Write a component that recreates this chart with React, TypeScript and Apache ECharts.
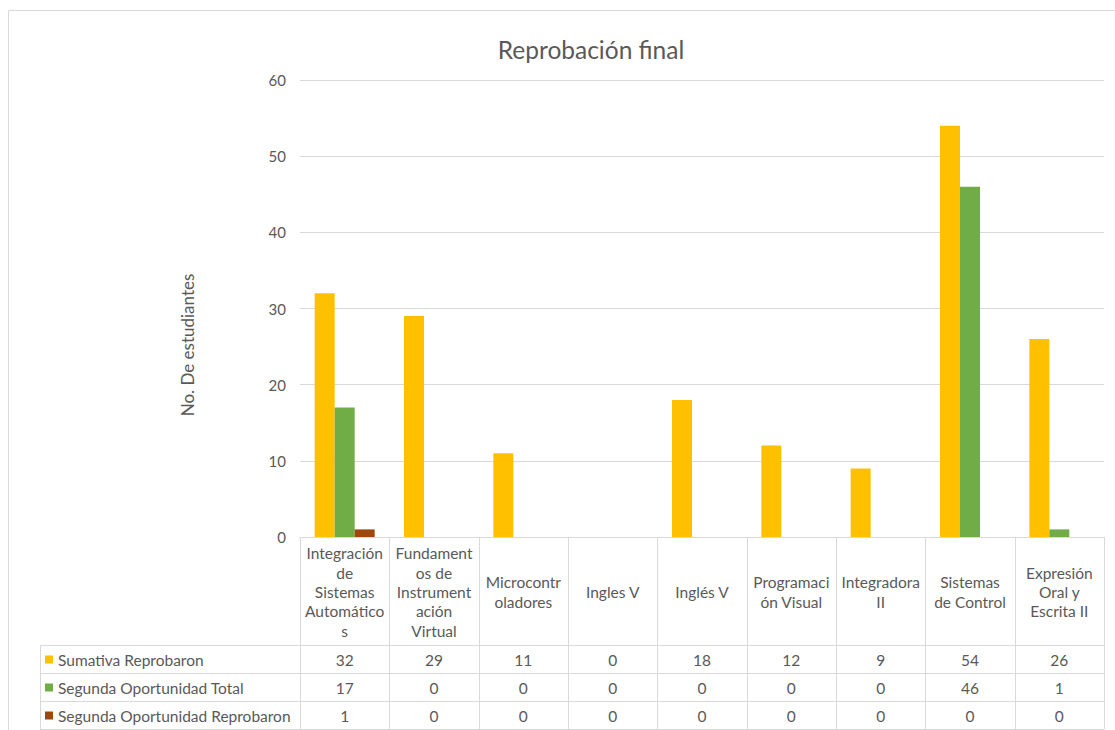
import React, { useEffect, useRef } from "react";
import * as echarts from "echarts";

const categories = [
  "Integración de Sistemas Automáticos",
  "Fundamentos de Instrumentación Virtual",
  "Microcontroladores",
  "Ingles V",
  "Inglés V",
  "Programación Visual",
  "Integradora II",
  "Sistemas de Control",
  "Expresión Oral y Escrita II",
];
const headerLabels = [
  "Integración\nde\nSistemas\nAutomático\ns",
  "Fundament\nos de\nInstrument\nación\nVirtual",
  "Microcontr\noladores",
  "Ingles V",
  "Inglés V",
  "Programaci\nón Visual",
  "Integradora\nII",
  "Sistemas\nde Control",
  "Expresión\nOral y\nEscrita II",
];
const seriesNames = ["Sumativa Reprobaron", "Segunda Oportunidad Total", "Segunda Oportunidad Reprobaron"];
const sumativaReprobaron = [32, 29, 11, 0, 18, 12, 9, 54, 26];
const segundaTotal = [17, 0, 0, 0, 0, 0, 0, 46, 1];
const segundaReprobaron = [1, 0, 0, 0, 0, 0, 0, 0, 0];
const seriesColors = ["#FFC000", "#70AD47", "#9E480E"];
const yTicks = { min: 0, max: 60, interval: 10 };
const yAxisName = "No. De estudiantes";

const FONT = "Lato, 'Open Sans', sans-serif";
const TEXT = "#595959";
const LINE = "#d9d9d9";
const FS = 15.5;

export default function App() {
  const ref = useRef<HTMLDivElement>(null);
  useEffect(() => {
    if (!ref.current) return;
    const chart = echarts.init(ref.current, undefined, { renderer: "svg" });
    const allData = [sumativaReprobaron, segundaTotal, segundaReprobaron];
    const gridLeft = 300, gridRight = 11, gridTop = 80, gridBottom = 193;
    chart.setOption({
      animation: false,
      backgroundColor: "#ffffff",
      title: {
        text: "Reprobación final",
        left: 586,
        top: 32,
        textAlign: "center",
        textStyle: { fontFamily: FONT, fontSize: 24.5, fontWeight: "normal", color: TEXT },
      },
      grid: { left: gridLeft, right: gridRight, top: gridTop, bottom: gridBottom, containLabel: false },
      xAxis: {
        type: "category",
        data: categories,
        axisLine: { lineStyle: { color: LINE } },
        axisTick: { show: false },
        axisLabel: { show: false },
      },
      yAxis: {
        type: "value",
        min: yTicks.min,
        max: yTicks.max,
        interval: yTicks.interval,
        axisLine: { show: false },
        axisTick: { show: false },
        axisLabel: { fontFamily: FONT, fontSize: 15, color: TEXT, margin: 14 },
        splitLine: { lineStyle: { color: LINE } },
      },
      series: allData.map((d, i) => ({
        type: "bar",
        name: seriesNames[i],
        data: d,
        barWidth: 20,
        barGap: "0%",
        barCategoryGap: "33%",
        itemStyle: { color: seriesColors[i] },
      })),
    });

    const elements: any[] = [];
    const yAxisPx = 730 - gridBottom;
    const left = gridLeft;
    const right = 1115 - gridRight;
    const bandW = (right - left) / categories.length;
    const headerBottom = 645;
    const rowH = 28;
    const tableLeft = 40;
    elements.push({
      type: "rect",
      shape: { x: 8.5, y: 10.5, width: 1130, height: 740 },
      style: { fill: "none", stroke: LINE, lineWidth: 1 },
      silent: true,
    });
    elements.push({
      type: "text",
      x: 187,
      y: 345,
      rotation: Math.PI / 2,
      style: { text: yAxisName, fontFamily: FONT, fontSize: 17, fill: TEXT, align: "center", verticalAlign: "middle" },
      silent: true,
    });
    for (let i = 0; i <= categories.length; i++) {
      const x = Math.round(left + i * bandW) + 0.5;
      elements.push({
        type: "line",
        shape: { x1: x, y1: yAxisPx, x2: x, y2: headerBottom + rowH * 3 },
        style: { stroke: LINE, lineWidth: 1 },
        silent: true,
      });
    }
    elements.push({
      type: "line",
      shape: { x1: tableLeft + 0.5, y1: headerBottom, x2: tableLeft + 0.5, y2: headerBottom + rowH * 3 },
      style: { stroke: LINE, lineWidth: 1 },
      silent: true,
    });
    for (let r = 0; r <= 3; r++) {
      const y = headerBottom + r * rowH + 0.5;
      elements.push({
        type: "line",
        shape: { x1: tableLeft, y1: y, x2: right, y2: y },
        style: { stroke: LINE, lineWidth: 1 },
        silent: true,
      });
    }
    headerLabels.forEach((lab, i) => {
      const cx = chart.convertToPixel({ xAxisIndex: 0 }, i) as number;
      elements.push({
        type: "text",
        x: cx,
        y: (yAxisPx + headerBottom) / 2 + 1,
        style: {
          text: lab,
          fontFamily: FONT,
          fontSize: FS,
          lineHeight: 19.3,
          fill: TEXT,
          align: "center",
          verticalAlign: "middle",
        },
        silent: true,
      });
    });
    allData.forEach((d, r) => {
      const cy = headerBottom + r * rowH + rowH / 2 + 0.5;
      elements.push({
        type: "rect",
        shape: { x: 45, y: cy - 4, width: 8, height: 8 },
        style: { fill: seriesColors[r] },
        silent: true,
      });
      elements.push({
        type: "text",
        x: 58,
        y: cy,
        style: { text: seriesNames[r], fontFamily: FONT, fontSize: FS, fill: TEXT, align: "left", verticalAlign: "middle" },
        silent: true,
      });
      d.forEach((v, i) => {
        const cx = chart.convertToPixel({ xAxisIndex: 0 }, i) as number;
        elements.push({
          type: "text",
          x: cx,
          y: cy,
          style: { text: String(v), fontFamily: FONT, fontSize: FS, fill: TEXT, align: "center", verticalAlign: "middle" },
          silent: true,
        });
      });
    });
    chart.setOption({ graphic: { elements } });
    return () => chart.dispose();
  }, []);
  return (
    <div
      ref={ref}
      style={{ position: "fixed", left: 0, top: 0, width: 1115, height: 730, background: "#fff" }}
    />
  );
}
